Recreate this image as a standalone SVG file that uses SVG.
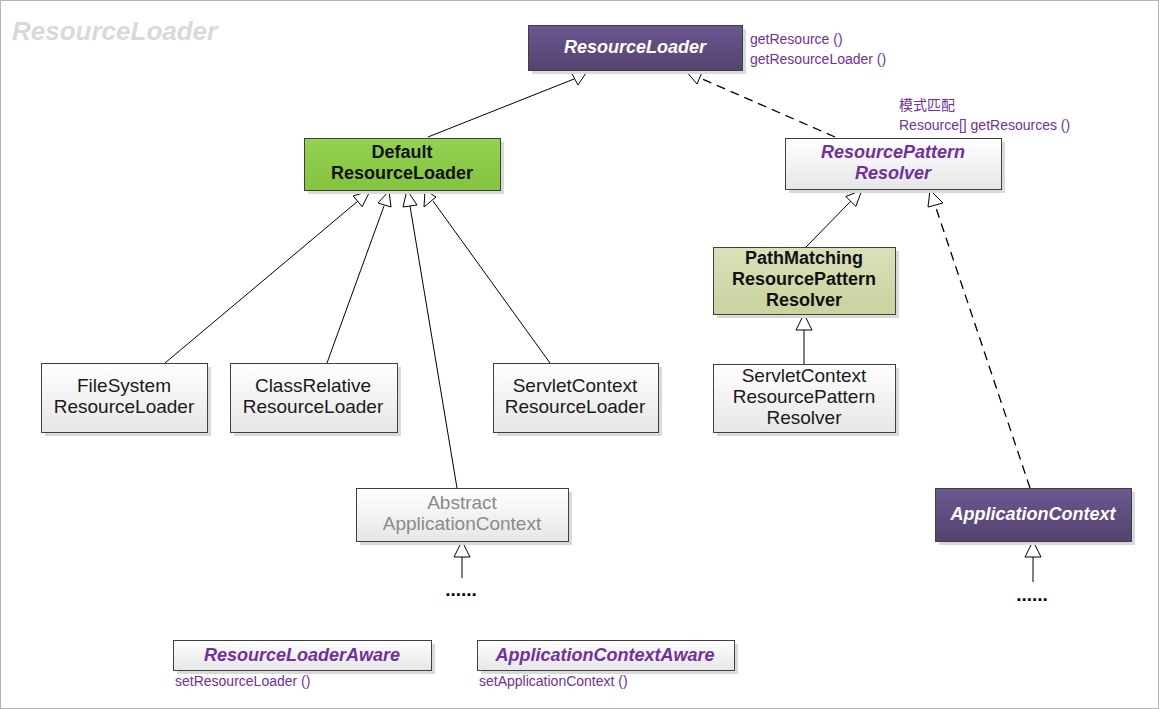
<svg xmlns="http://www.w3.org/2000/svg" width="1159" height="709" viewBox="0 0 1159 709">
<defs>
<linearGradient id="gW" x1="0" y1="0" x2="0" y2="1"><stop offset="0" stop-color="#ffffff"/><stop offset="1" stop-color="#e6e6e6"/></linearGradient>
<linearGradient id="gP" x1="0" y1="0" x2="0" y2="1"><stop offset="0" stop-color="#6a5890"/><stop offset="1" stop-color="#54426f"/></linearGradient>
<linearGradient id="gG" x1="0" y1="0" x2="0" y2="1"><stop offset="0" stop-color="#94d352"/><stop offset="1" stop-color="#84c33e"/></linearGradient>
<linearGradient id="gO" x1="0" y1="0" x2="0" y2="1"><stop offset="0" stop-color="#d8e1b8"/><stop offset="1" stop-color="#c8d39f"/></linearGradient>
</defs>
<style>
.sh{fill:#d9d9d9}
.bx{stroke:#404040;stroke-width:1}
.w{fill:url(#gW)}
.p{fill:url(#gP)}
.g{fill:url(#gG)}
.o{fill:url(#gO)}
text{font-family:"Liberation Sans",Arial,sans-serif;text-anchor:middle}
.t{font-size:19px;fill:#1a1a1a}
.b{font-size:18px;font-weight:bold;fill:#111}
.bi{font-size:18px;font-weight:bold;font-style:italic}
.wh{fill:#ffffff}
.pu{fill:#7030a0}
.gr{fill:#8a8a8a}
.sm{font-size:14px;fill:#7030a0;text-anchor:start}
.dots{font-size:19px;font-weight:bold;fill:#000}
.ln{stroke:#000;stroke-width:1;fill:none}
.dl{stroke:#000;stroke-width:1.3;fill:none;stroke-dasharray:9,6}
.ah{fill:#fff;stroke:#000;stroke-width:1}
</style>
<rect x="0.5" y="0.5" width="1158" height="708" fill="#fff" stroke="#b4b4b4"/>
<text x="12" y="40" style="font-size:26px;font-weight:bold;font-style:italic;fill:#d9d9d9;text-anchor:start">ResourceLoader</text>

<g id="connectors">
<line class="ln" x1="428" y1="137" x2="574" y2="79"/>
<polygon class="ah" points="570,70 588,70 578,85"/>
<line class="dl" x1="835" y1="137" x2="700" y2="78"/>
<polygon class="ah" points="685,70 703,70 697,84"/>
<line class="ln" x1="165" y1="363" x2="358" y2="201"/>
<polygon class="ah" points="370,191 362.2,206.7 353.2,195.9"/>
<line class="ln" x1="327" y1="363" x2="384" y2="206"/>
<polygon class="ah" points="389,191 391,207 378,203"/>
<line class="ln" x1="457" y1="488" x2="410" y2="206"/>
<polygon class="ah" points="407,190 417,205 403,207"/>
<line class="ln" x1="550" y1="363" x2="433" y2="201"/>
<polygon class="ah" points="425,190 436,197 424,207"/>
<line class="ln" x1="806" y1="247" x2="851" y2="201"/>
<polygon class="ah" points="862,190 855.8,206.3 845.8,196.5"/>
<line class="dl" x1="1030" y1="488" x2="935" y2="205"/>
<polygon class="ah" points="930,190 943,203 928,207"/>
<line class="ln" x1="804" y1="330" x2="804" y2="364"/>
<polygon class="ah" points="804,314 812,330 796,330"/>
<line class="ln" x1="462" y1="557" x2="462" y2="578"/>
<polygon class="ah" points="462,541 470,557 454,557"/>
<line class="ln" x1="1033" y1="557" x2="1033" y2="582"/>
<polygon class="ah" points="1033,541 1041,557 1025,557"/>
</g>

<g id="resourceLoader">
<rect class="sh" x="532" y="29" width="214" height="45"/>
<rect class="bx p" x="528.5" y="25.5" width="214" height="45"/>
<text class="bi wh" x="635" y="53">ResourceLoader</text>
<text class="sm" x="750" y="44">getResource ()</text>
<text class="sm" x="750" y="64">getResourceLoader ()</text>
</g>

<g id="defaultResourceLoader">
<rect class="sh" x="308" y="142" width="196" height="52"/>
<rect class="bx g" x="304.5" y="138.5" width="196" height="52"/>
<text class="b" x="402" y="158">Default</text>
<text class="b" x="402" y="179">ResourceLoader</text>
</g>

<g id="resourcePatternResolver">
<rect class="sh" x="789" y="142" width="216" height="51"/>
<rect class="bx w" x="785.5" y="138.5" width="216" height="51"/>
<text class="bi pu" x="893" y="158">ResourcePattern</text>
<text class="bi pu" x="893" y="179">Resolver</text>
<text x="899" y="110" style="font-family:'Noto Sans CJK SC','Liberation Sans',sans-serif;font-size:14px;fill:#7030a0;text-anchor:start">模式匹配</text>
<text class="sm" x="899" y="130">Resource[] getResources ()</text>
</g>

<g id="pathMatching">
<rect class="sh" x="717" y="251" width="182" height="67"/>
<rect class="bx o" x="713.5" y="247.5" width="182" height="67"/>
<text class="b" x="804" y="264">PathMatching</text>
<text class="b" x="804" y="285">ResourcePattern</text>
<text class="b" x="804" y="306">Resolver</text>
</g>

<g id="servletContextRPR">
<rect class="sh" x="717" y="368" width="182" height="68"/>
<rect class="bx w" x="713.5" y="364.5" width="182" height="68"/>
<text class="t" x="804" y="382">ServletContext</text>
<text class="t" x="804" y="403">ResourcePattern</text>
<text class="t" x="804" y="424">Resolver</text>
</g>

<g id="fileSystem">
<rect class="sh" x="45" y="367" width="166" height="69"/>
<rect class="bx w" x="41.5" y="363.5" width="166" height="69"/>
<text class="t" x="124" y="392">FileSystem</text>
<text class="t" x="124" y="413">ResourceLoader</text>
</g>

<g id="classRelative">
<rect class="sh" x="234" y="367" width="167" height="69"/>
<rect class="bx w" x="230.5" y="363.5" width="167" height="69"/>
<text class="t" x="313" y="392">ClassRelative</text>
<text class="t" x="313" y="413">ResourceLoader</text>
</g>

<g id="servletContextRL">
<rect class="sh" x="497" y="367" width="165" height="69"/>
<rect class="bx w" x="493.5" y="363.5" width="165" height="69"/>
<text class="t" x="575" y="392">ServletContext</text>
<text class="t" x="575" y="413">ResourceLoader</text>
</g>

<g id="abstractApplicationContext">
<rect class="sh" x="360" y="492" width="212" height="53"/>
<rect class="bx w" x="356.5" y="488.5" width="212" height="53"/>
<text class="t gr" x="462" y="509">Abstract</text>
<text class="t gr" x="462" y="530">ApplicationContext</text>
<text class="dots" x="461" y="596">......</text>
</g>

<g id="applicationContext">
<rect class="sh" x="939" y="492" width="196" height="53"/>
<rect class="bx p" x="935.5" y="488.5" width="196" height="53"/>
<text class="bi wh" x="1033" y="520">ApplicationContext</text>
<text class="dots" x="1032" y="601">......</text>
</g>

<g id="resourceLoaderAware">
<rect class="sh" x="177" y="644" width="258" height="30"/>
<rect class="bx w" x="173.5" y="640.5" width="258" height="30"/>
<text class="bi pu" x="302" y="661">ResourceLoaderAware</text>
<text class="sm" x="175" y="686">setResourceLoader ()</text>
</g>

<g id="applicationContextAware">
<rect class="sh" x="481" y="644" width="257" height="30"/>
<rect class="bx w" x="477.5" y="640.5" width="257" height="30"/>
<text class="bi pu" x="605" y="661">ApplicationContextAware</text>
<text class="sm" x="479" y="686">setApplicationContext ()</text>
</g>
</svg>
